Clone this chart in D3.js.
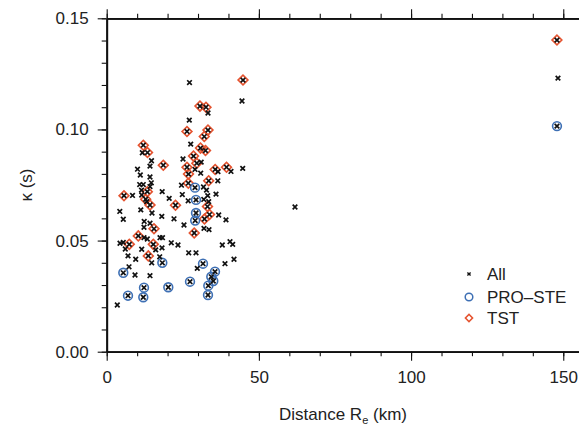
<!DOCTYPE html>
<html><head><meta charset="utf-8">
<script src="https://cdn.jsdelivr.net/npm/d3@7"></script>
<style>
html,body{margin:0;padding:0;background:#fff;}
svg{display:block;font-family:"Liberation Sans",Arial,Helvetica,sans-serif;}
</style></head>
<body><svg id="c" width="579" height="427"></svg>
<script>
// [distance Re (km), kappa (s)]
const otherPoints = [[27.2,0.1211],[44.45,0.1128],[33.28,0.1074],[27.14,0.1042],[27.6,0.0934],[11.7,0.0895],[14.72,0.0859],[10.12,0.0821],[14.22,0.0835],[11.04,0.0795],[14.22,0.0786],[10.84,0.0752],[12.02,0.0752],[14.65,0.0760],[14.22,0.0743],[11.43,0.0727],[18.23,0.0720],[8.48,0.0703],[11.5,0.0705],[13.14,0.0675],[20.53,0.0690],[4.3,0.0631],[11.2,0.0638],[14.88,0.0624],[5.45,0.0596],[12.32,0.0586],[14.22,0.0578],[18.1,0.0609],[22.11,0.0598],[12.25,0.0560],[25.07,0.0867],[31.04,0.0853],[29.01,0.0820],[44.68,0.0825],[40.83,0.0811],[36.56,0.0810],[30.88,0.0803],[36.5,0.0769],[24.57,0.0749],[31.8,0.0741],[32.79,0.0727],[24.84,0.0707],[33.18,0.0702],[35.91,0.0709],[26.77,0.0679],[31.9,0.0685],[33.51,0.0675],[36.79,0.0615],[39.19,0.0593],[25.39,0.0570],[31.96,0.0555],[33.61,0.0549],[12.25,0.0513],[13.34,0.0507],[17.51,0.0513],[18.33,0.0513],[4.37,0.0488],[5.45,0.0492],[6.11,0.0462],[11.5,0.0461],[18.17,0.0467],[21.22,0.0490],[23.42,0.0480],[16.1,0.0458],[7.0,0.0431],[9.53,0.0416],[14.78,0.0400],[17.41,0.0427],[26.94,0.0445],[29.34,0.0445],[37.98,0.0480],[40.51,0.0495],[41.39,0.0483],[41.82,0.0416],[38.86,0.0396],[29.76,0.0375],[7.33,0.0382],[9.3,0.0345],[14.22,0.0342],[3.48,0.0210],[61.86,0.0651],[148.26,0.1231]];
const tstPoints = [[44.78,0.1222],[30.65,0.1105],[32.62,0.1100],[26.38,0.0991],[33.28,0.0997],[32.06,0.0968],[12.02,0.0929],[13.40,0.0896],[30.81,0.0916],[32.46,0.0905],[28.52,0.0880],[18.59,0.0839],[29.60,0.0848],[26.38,0.0830],[35.64,0.0820],[39.36,0.0830],[26.87,0.0799],[33.51,0.0769],[26.81,0.0758],[5.68,0.0702],[13.34,0.0720],[12.81,0.0686],[14.22,0.0660],[22.60,0.0659],[33.11,0.0653],[33.77,0.0617],[32.13,0.0597],[15.54,0.0553],[28.75,0.0534],[10.38,0.0521],[15.31,0.0483],[7.42,0.0483],[13.67,0.0431],[147.93,0.1402]];
const proPoints = [[29.01,0.0738],[29.34,0.0683],[29.34,0.0624],[29.07,0.0590],[18.27,0.0400],[31.64,0.0396],[35.58,0.0360],[34.36,0.0337],[35.02,0.0318],[33.38,0.0297],[33.28,0.0255],[5.45,0.0355],[12.25,0.0288],[20.24,0.0290],[27.37,0.0315],[7.00,0.0252],[12.02,0.0245],[147.93,0.1015]];
const allPoints = otherPoints.concat(tstPoints, proPoints);

const xMajor = [0, 50, 100, 150];
const yMajor = [0, 0.05, 0.10, 0.15];
const legendLabels = ["All", "PRO\u2013STE", "TST"];

const svg = d3.select("#c");
const x = d3.scaleLinear().domain([0, 160]).range([106.7, 593.7]);
const y = d3.scaleLinear().domain([0, 0.15]).range([351.7, 18.3]);
const TXT = "#222";
const RED = "#e5532f", BLUE = "#3d6fb4";

function styleAxis(g, lw){
  g.select(".domain").attr("stroke","#111").attr("stroke-width",lw);
  g.selectAll(".tick line").attr("stroke","#111").attr("stroke-width",1.1);
  g.selectAll("text").attr("fill",TXT).attr("font-size",17).attr("font-family","'Liberation Sans',Arial,sans-serif");
}
const minorX = d3.range(0, 161, 10);
const minorY = d3.range(0, 0.1501, 0.01);

// bottom
svg.append("g").attr("transform",`translate(0,${y(0)})`)
  .call(d3.axisBottom(x).tickValues(minorX).tickSize(4.5).tickSizeOuter(0).tickFormat(""))
  .call(g=>styleAxis(g,1.8));
svg.append("g").attr("transform",`translate(0,${y(0)})`)
  .call(d3.axisBottom(x).tickValues(xMajor).tickSize(9).tickSizeOuter(0).tickPadding(10).tickFormat(d3.format("d")))
  .call(g=>styleAxis(g,1.8));
// top
svg.append("g").attr("transform",`translate(0,${y(0.15)})`)
  .call(d3.axisTop(x).tickValues(minorX).tickSize(4.5).tickSizeOuter(0).tickFormat(""))
  .call(g=>styleAxis(g,1.8));
svg.append("g").attr("transform",`translate(0,${y(0.15)})`)
  .call(d3.axisTop(x).tickValues(xMajor).tickSize(9).tickSizeOuter(0).tickFormat(""))
  .call(g=>styleAxis(g,1.8));
// left
svg.append("g").attr("transform",`translate(${x(0)},0)`)
  .call(d3.axisLeft(y).tickValues(minorY).tickSize(5).tickSizeOuter(0).tickFormat(""))
  .call(g=>styleAxis(g,1.8));
svg.append("g").attr("transform",`translate(${x(0)},0)`)
  .call(d3.axisLeft(y).tickValues(yMajor).tickSize(9).tickSizeOuter(0).tickPadding(9).tickFormat(d3.format(".2f")))
  .call(g=>styleAxis(g,1.8));
// right (beyond view)
svg.append("g").attr("transform",`translate(${x(160)},0)`)
  .call(d3.axisRight(y).tickValues(minorY).tickSize(5).tickSizeOuter(0).tickFormat(""))
  .call(g=>styleAxis(g,1.8));

// axis titles
const xt = svg.append("text").attr("x", 343).attr("y", 420).attr("text-anchor","middle")
  .attr("font-size",17).attr("fill",TXT);
xt.append("tspan").text("Distance R");
xt.append("tspan").text("e").attr("font-size",11).attr("dy",4);
xt.append("tspan").text(" (km)").attr("dy",-4);
svg.append("text").attr("transform",`translate(32,${(y(0)+y(0.15))/2}) rotate(-90)`)
  .attr("text-anchor","middle").attr("font-size",17).attr("fill",TXT).text("\u03ba (s)");

const plot = svg.append("g");
const diamond = d3.symbol().type(d3.symbolSquare).size(48);
plot.selectAll("path.tst").data(tstPoints).join("path").attr("class","tst")
  .attr("d", diamond())
  .attr("transform", d=>`translate(${x(d[0])},${y(d[1])}) rotate(45)`)
  .attr("fill","none").attr("stroke",RED).attr("stroke-width",1.6);
plot.selectAll("circle.pro").data(proPoints).join("circle").attr("class","pro")
  .attr("cx", d=>x(d[0])).attr("cy", d=>y(d[1])).attr("r",4.4)
  .attr("fill","none").attr("stroke",BLUE).attr("stroke-width",1.6);
const cross = "M-2.3,-2.3L2.3,2.3M-2.3,2.3L2.3,-2.3";
plot.selectAll("path.all").data(allPoints).join("path").attr("class","all")
  .attr("d", cross)
  .attr("transform", d=>`translate(${x(d[0])},${y(d[1])})`)
  .attr("fill","none").attr("stroke","#111").attr("stroke-width",1.7);

// legend
const lg = svg.append("g");
const ly = [274, 297, 318];
lg.append("path").attr("d","M-1.6,-1.6L1.6,1.6M-1.6,1.6L1.6,-1.6")
  .attr("transform",`translate(469,${ly[0]})`).attr("stroke","#111").attr("stroke-width",1.4);
lg.append("circle").attr("cx",469).attr("cy",ly[1]).attr("r",3.8)
  .attr("fill","none").attr("stroke",BLUE).attr("stroke-width",1.5);
lg.append("path").attr("d", d3.symbol().type(d3.symbolSquare).size(26)())
  .attr("transform",`translate(469,${ly[2]}) rotate(45)`)
  .attr("fill","none").attr("stroke",RED).attr("stroke-width",1.5);
lg.selectAll("text").data(legendLabels).join("text")
  .attr("x",487).attr("y",(d,i)=>ly[i]).attr("dy","0.36em")
  .attr("font-size",17).attr("fill",TXT).text(d=>d);
</script></body></html>
